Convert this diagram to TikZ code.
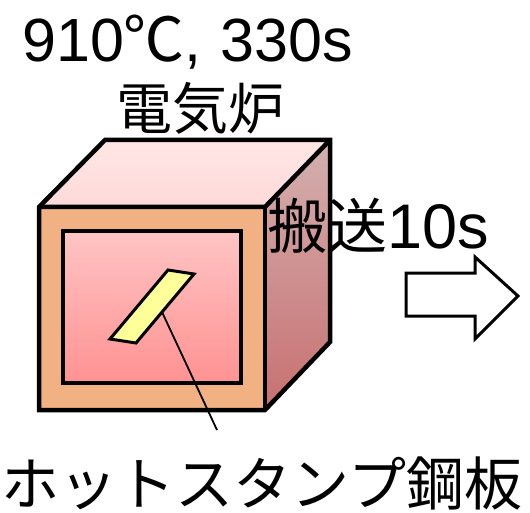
\documentclass[tikz,border=0pt]{standalone}
\usepackage{fontspec}
\setmainfont{Liberation Sans}
\newfontfamily\jp{Noto Sans CJK JP}
\definecolor{frameorange}{HTML}{F2B183}
\definecolor{toptop}{HTML}{FFE6E6}
\definecolor{topbot}{HTML}{FFD9D9}
\definecolor{sidetop}{HTML}{D4B0B0}
\definecolor{sidebot}{HTML}{C87070}
\definecolor{wintop}{HTML}{FFC4C4}
\definecolor{winbot}{HTML}{FF9292}
\definecolor{plateyellow}{HTML}{FFFF99}
\tikzset{
  edge/.style={draw=black, line width=4.5pt, line join=miter},
  winedge/.style={draw=black, line width=3.5pt},
  plateedge/.style={draw=black, line width=3pt, fill=plateyellow, line join=miter},
  leader/.style={draw=black, line width=1.8pt},
  blockarrow/.style={draw=black, line width=3pt, fill=white, line join=miter},
  label/.style={inner sep=0pt, text=black},
}
\begin{document}
\begin{tikzpicture}[x=1pt, y=-1pt]
\useasboundingbox (0,0) rectangle (530,513);

% furnace box: top face, side face, front frame
\shade[top color=toptop, bottom color=topbot]
  (105,140) -- (330,140) -- (265,207) -- (39,207) -- cycle;
\shade[top color=sidetop, bottom color=sidebot]
  (330,140) -- (330,342) -- (265,410) -- (265,207) -- cycle;
\fill[frameorange] (39,207) rectangle (265,410);
\draw[edge] (39,207) -- (105,140) -- (330,140) -- (330,342) -- (265,410) -- (39,410) -- cycle;
\draw[edge] (39,207) -- (265,207) -- (330,140);
\draw[edge] (265,207) -- (265,410);

% inner window
\shade[top color=wintop, bottom color=winbot] (63,231) rectangle (241,383);
\draw[winedge] (63,231) rectangle (241,383);

% steel sheet inside the furnace
\draw[plateedge] (168,270) -- (194,274) -- (136,343) -- (110,339) -- cycle;
\coordinate (platept) at (162,312);
\coordinate (leaderend) at (217,430);
\draw[leader] (platept) -- (leaderend);

% transfer arrow
\draw[blockarrow] (406,273) -- (475,273) -- (475,257) -- (518,296)
  -- (475,339) -- (475,316) -- (406,316) -- cycle;

% labels
\node[label, anchor=base west] (cond) at (22,61.5)
  {\fontsize{61}{61}\selectfont 910{\jp ℃},\hspace{19pt}330s};
\node[label] (furnace) at (200,108) {\jp\fontsize{56}{56}\selectfont 電気炉};
\node[label, anchor=base west] (transfer) at (267,248)
  {{\jp\fontsize{60}{60}\selectfont 搬送}\fontsize{63}{63}\selectfont 10s};
\node[label] (sheet) at (262,483) {\jp\fontsize{58}{58}\selectfont ホットスタンプ鋼板};
\end{tikzpicture}
\end{document}
